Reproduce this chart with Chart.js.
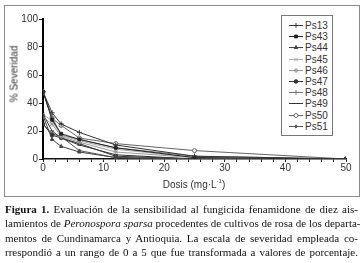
<!DOCTYPE html>
<html>
<head>
<meta charset="utf-8">
<script src="https://cdn.jsdelivr.net/npm/chart.js@4.4.1/dist/chart.umd.min.js"></script>
<style>
  body { margin: 0; background: #fff; width: 364px; height: 263px; overflow: hidden; position: relative; font-family: "Liberation Sans", Arial, sans-serif; }
  #box { position: absolute; left: 4px; top: 5px; width: 354px; height: 190px; border: 1px solid #8a8a8a; }
  #c { position: absolute; left: 0; top: 0; }
  #ytitle { position: absolute; left: 14px; top: 74px; transform: translate(-50%, -50%) rotate(-90deg); font-size: 10px; color: #333; white-space: nowrap; }
  #xtitle { position: absolute; left: 194px; top: 184px; transform: translate(-50%, -50%); font-size: 10px; color: #333; white-space: nowrap; }
  #xtitle sup { font-size: 6px; }
  #legend { position: absolute; left: 281px; top: 15px; width: 50px; height: 119px; border: 1px solid #777; background: #fff; }
  .item { position: absolute; left: 0; height: 11px; font-size: 10px; line-height: 11px; color: #333; }
  .item canvas { position: absolute; left: 6px; top: 0; }
  .item span { position: absolute; left: 23px; top: 0; }
  #caption { position: absolute; left: 5px; top: 202px; width: 353px; font-family: "Liberation Serif", "Times New Roman", serif; font-size: 11px; line-height: 14.3px; color: #111; }
  #caption div { text-align: justify; text-align-last: justify; white-space: nowrap; }
</style>
</head>
<body>
<div id="box"></div>
<canvas id="c" width="364" height="200"></canvas>
<div id="ytitle">% Severidad</div>
<div id="xtitle">Dosis (mg·L<sup>-1</sup>)</div>
<div id="legend"></div>
<div id="caption">
  <div><b>Figura 1.</b> Evaluación de la sensibilidad al fungicida fenamidone de diez ais-</div>
  <div>lamientos de <i>Peronospora sparsa</i> procedentes de cultivos de rosa de los departa-</div>
  <div>mentos de Cundinamarca y Antioquia. La escala de severidad empleada co-</div>
  <div>rrespondió a un rango de 0 a 5 que fue transformada a valores de porcentaje.</div>
</div>
<script>
// dosis (mg/L)
const dosis = [0, 1.5, 3, 6, 12, 25, 50];
const aislamientos = ["Ps13", "Ps43", "Ps44", "Ps45", "Ps46", "Ps47", "Ps48", "Ps49", "Ps50", "Ps51"];

// % severidad
const ps13 = [48, 33, 25, 19, 10, 2, 0];
const ps43 = [48, 28, 18, 14, 8, 1, 0];
const ps44 = [31, 14, 9, 5, 1, 0, 0];
const ps45 = [32, 27, 17, 13, 7, 1, 0];
const ps46 = [30, 25, 16, 12, 5, 1, 0];
const ps47 = [25, 17, 15, 11, 2, 0, 0];
const ps48 = [48, 30, 17, 14, 8, 2, 0];
const ps49 = [32, 20, 15, 10, 3, 0, 0];
const ps50 = [48, 29, 24, 15, 11, 6, 0];
const ps51 = [25, 18, 16, 6, 1, 0, 0];

const valores = [ps13, ps43, ps44, ps45, ps46, ps47, ps48, ps49, ps50, ps51];
const estilos = [
  { color: "#333", point: "cross", fill: true, r: 2.5 },
  { color: "#222", point: "rect", fill: true, r: 2 },
  { color: "#444", point: "triangle", fill: true, r: 2 },
  { color: "#aaa", point: "crossRot", fill: true, r: 2.5 },
  { color: "#999", point: "star", fill: true, r: 2.5 },
  { color: "#333", point: "circle", fill: true, r: 1.8 },
  { color: "#777", point: "cross", fill: true, r: 2.5 },
  { color: "#333", point: "line", fill: true, r: 2 },
  { color: "#666", point: "circle", fill: false, r: 2 },
  { color: "#555", point: "rectRot", fill: true, r: 1.6 },
];

const datasets = aislamientos.map((nom, i) => ({
  label: nom,
  data: dosis.map((d, j) => ({ x: d, y: valores[i][j] })),
  borderColor: estilos[i].color,
  backgroundColor: estilos[i].fill ? estilos[i].color : "#fff",
  borderWidth: 1,
  pointStyle: estilos[i].point,
  pointRadius: estilos[i].r,
  pointBorderWidth: 1,
  tension: 0,
}));

new Chart(document.getElementById("c"), {
  type: "line",
  data: { datasets: datasets },
  options: {
    responsive: false,
    animation: false,
    layout: { padding: { left: 0, top: 19, right: 18, bottom: 0 } },
    plugins: { legend: { display: false }, tooltip: { enabled: false } },
    scales: {
      x: {
        type: "linear",
        min: 0, max: 50,
        afterFit: (s) => { s.height = 41; },
        grid: { drawOnChartArea: false, tickLength: 3, tickColor: "#222" },
        border: { color: "#111", width: 1.5 },
        ticks: {
          stepSize: 2, autoSkip: false, maxRotation: 0, padding: 0,
          color: "#333", font: { family: "Liberation Sans", size: 10 },
          callback: (v) => (v % 10 === 0 ? v : ""),
        },
      },
      y: {
        min: 0, max: 100,
        afterFit: (s) => { s.width = 43; },
        grid: { drawOnChartArea: false, tickLength: 4, tickColor: "#222" },
        border: { color: "#000", width: 2 },
        ticks: { stepSize: 10, padding: 1, color: "#333", font: { family: "Liberation Sans", size: 10 } },
      },
    },
  },
});

// leyenda
const leg = document.getElementById("legend");
aislamientos.forEach((nom, i) => {
  const it = document.createElement("div");
  it.className = "item";
  it.style.top = (4 + i * 11.2) + "px";
  const cv = document.createElement("canvas");
  cv.width = 15; cv.height = 11;
  const ctx = cv.getContext("2d");
  ctx.strokeStyle = estilos[i].color;
  ctx.lineWidth = 1;
  ctx.beginPath(); ctx.moveTo(1, 5.5); ctx.lineTo(15, 5.5); ctx.stroke();
  ctx.fillStyle = estilos[i].fill ? estilos[i].color : "#fff";
  if (Chart.helpers && Chart.helpers.drawPoint) {
    Chart.helpers.drawPoint(ctx, { pointStyle: estilos[i].point, radius: estilos[i].r, rotation: 0, borderWidth: 1 }, 8, 5.5);
  }
  const sp = document.createElement("span");
  sp.textContent = nom;
  it.appendChild(cv); it.appendChild(sp);
  leg.appendChild(it);
});
</script>
</body>
</html>
